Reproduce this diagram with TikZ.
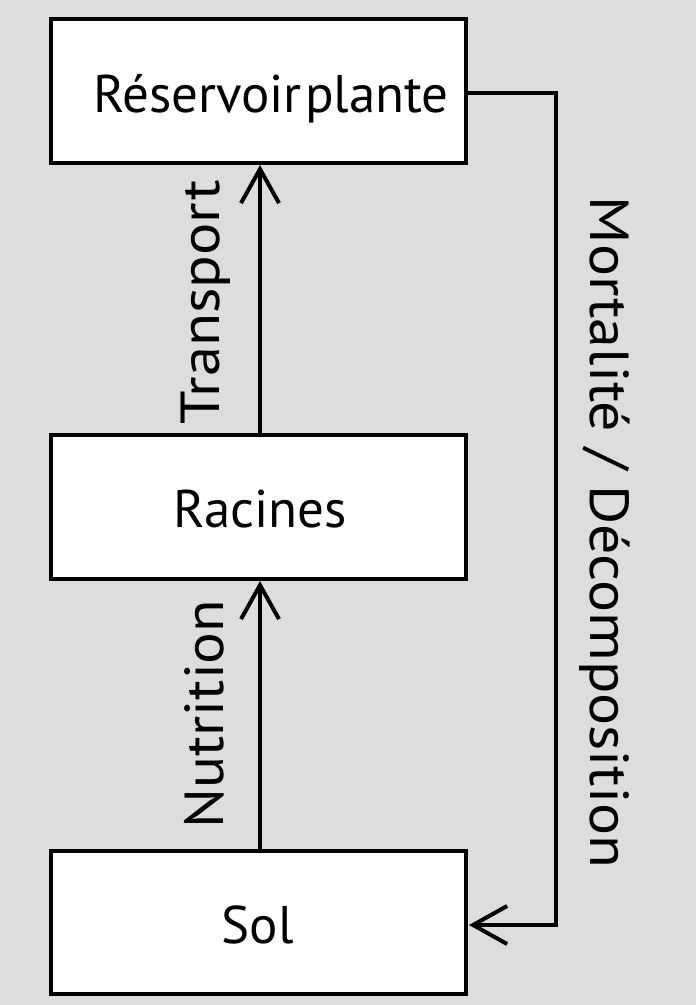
\documentclass[tikz,border=0pt]{standalone}
\usepackage{fontspec}
\setmainfont{PT Sans}
\usetikzlibrary{arrows.meta}
\definecolor{bggrey}{RGB}{221,221,221}
\begin{document}
\begin{tikzpicture}[x=1pt,y=-1pt,
  boxnode/.style={draw=black, line width=4pt, fill=white, minimum width=415pt, minimum height=144pt, inner sep=0pt, outer sep=0pt},
  txt/.style={font=\fontsize{53}{60}\selectfont, inner sep=0pt, anchor=base},
  lbl/.style={font=\fontsize{55}{60}\selectfont, inner sep=0pt, anchor=base},
  conn/.style={draw=black, line width=4pt, -{Straight Barb[length=34pt,width=38pt,line width=4pt]}},
  loopline/.style={draw=black, line width=4pt, line join=miter}
]
\fill[bggrey] (0,0) rectangle (696,1005);
\useasboundingbox (0,0) rectangle (696,1005);

\node[boxnode] (rp) at (258.5,91) {};
\node[boxnode] (rac) at (258.5,507) {};
\node[boxnode, minimum height=143pt] (sol) at (258.5,922.5) {};

\node[txt] (rpt) at (271,112) {Réservoir\hspace{0.06em}plante};
\node[txt] (ract) at (260,527) {Racines};
\node[txt] (solt) at (257.5,943) {Sol};

\coordinate (a1) at (260,433);
\coordinate (a2) at (260,165);
\coordinate (b1) at (260,849);
\coordinate (b2) at (260,581);
\draw[conn] (a1) -- (a2);
\draw[conn] (b1) -- (b2);

\coordinate (c1) at (468,93);
\coordinate (c2) at (556,93);
\coordinate (c3) at (556,925);
\coordinate (c4) at (469,925);
\draw[loopline, -{Straight Barb[length=34pt,width=38pt,line width=4pt]}] (c1) -- (c2) -- (c3) -- (c4);

\node[lbl, rotate=90] (lt) at (219,302.5) {\scalebox{1.1}[1]{Transport}};
\node[lbl, rotate=90] (ln) at (223,714) {\scalebox{1.08}[1]{Nutrition}};
\node[lbl, rotate=-90] (lm) at (590,532.5) {\scalebox{1.09}[1]{Mortalité / Décomposition}};
\end{tikzpicture}
\end{document}
